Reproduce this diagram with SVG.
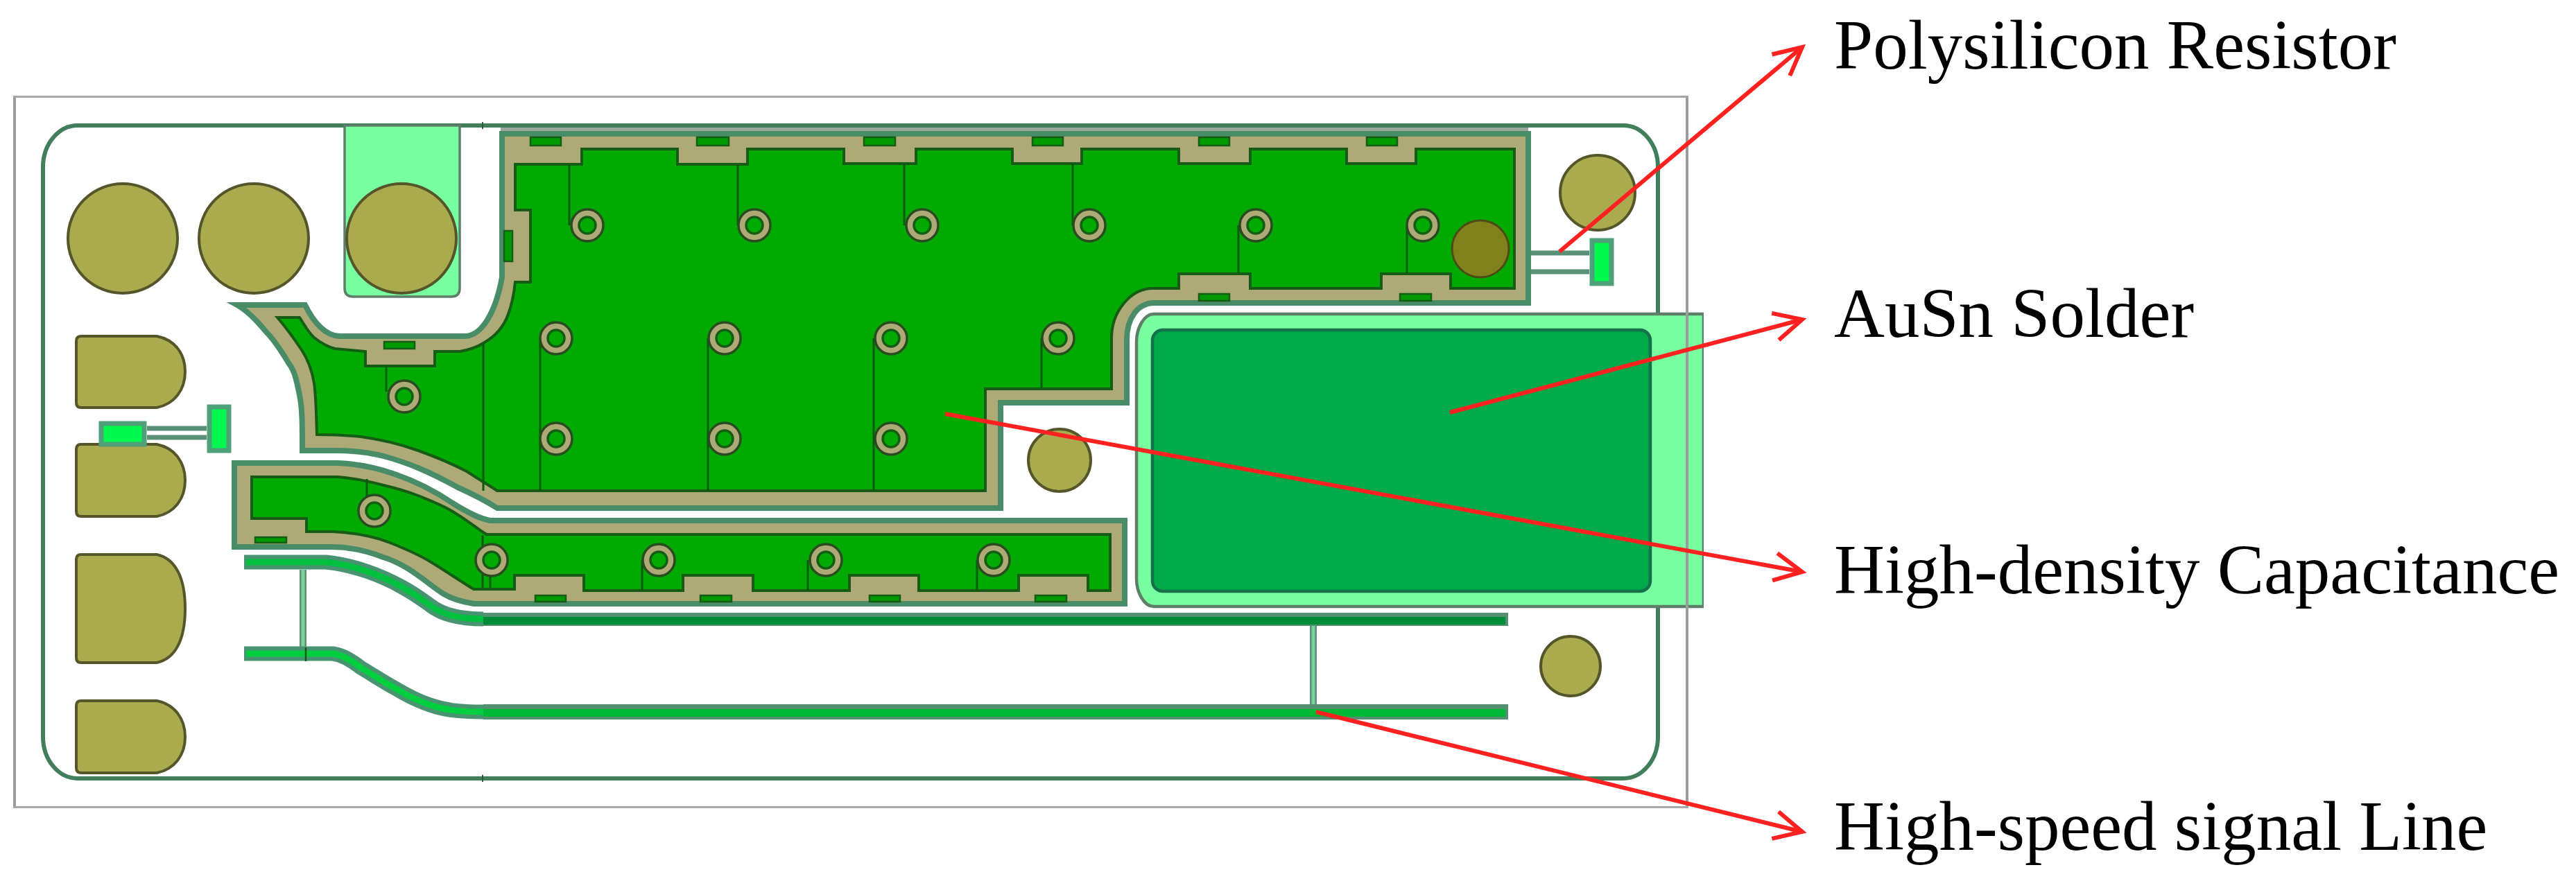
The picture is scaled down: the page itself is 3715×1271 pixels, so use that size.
<svg xmlns="http://www.w3.org/2000/svg" xmlns:xlink="http://www.w3.org/1999/xlink" width="3715" height="1271" viewBox="0 0 3715 1271">
<style>
.label{font-family:"Liberation Serif","Times New Roman",serif;font-size:101px;fill:#000}
.pad{fill:#aaaa50;stroke:#55552c;stroke-width:4}
.tan{fill:#aeaa78;stroke:#4a8c68;stroke-width:8;stroke-linejoin:miter;stroke-miterlimit:8}
.cu{fill:#00aa00;stroke:#145c14;stroke-width:4}
.sq{fill:#009a00;stroke:#145c14;stroke-width:2.5}
.th{stroke:#0b5a10;stroke-width:3;fill:none}
.arrow{stroke:#ff2020;stroke-width:6;fill:none;marker-end:url(#head)}
.res{fill:#00f850;stroke:#4fa078;stroke-width:7}
.lk{stroke:#5a9076;stroke-width:7;fill:none}
.via1{fill:#aeaa78;stroke:#2c4c20;stroke-width:3.5}
.via2{fill:#00aa00;stroke:#145c14;stroke-width:3.5}
</style>
<defs>
<filter id="soft" x="0" y="0" width="100%" height="100%"><feGaussianBlur stdDeviation="0.7"/></filter>
<marker id="head" markerUnits="userSpaceOnUse" markerWidth="60" markerHeight="70" refX="50" refY="30" orient="auto" viewBox="0 0 60 70">
<path d="M10,10 L50,30 L10,50" fill="none" stroke="#ff2020" stroke-width="6"/>
</marker>
<g id="via"><circle r="23" class="via1"/><circle r="12" class="via2"/></g>
</defs>
<rect width="3715" height="1271" fill="#fff"/>

<g filter="url(#soft)">
<g id="die-outline">
<rect x="62" y="181" width="2329" height="942" rx="50" ry="60" fill="#fff" stroke="#3f7f5a" stroke-width="6"/>
<path d="M696,176V186M696,1118V1128" stroke="#2c5c40" stroke-width="2"/>
</g>

<g id="bond-tail"><path d="M497,181H663V416Q663,428 651,428H509Q497,428 497,416Z" fill="#78ffa0" stroke="#5e7e6a" stroke-width="3.5"/></g>

<g id="round-pads">
<circle cx="177" cy="344" r="79" class="pad"/>
<circle cx="366" cy="344" r="79" class="pad"/>
<circle cx="579" cy="344" r="79" class="pad"/>
<circle cx="2304" cy="278" r="54" class="pad"/>
<circle cx="1528" cy="664" r="45" class="pad"/>
<circle cx="2265" cy="961" r="43" class="pad"/>
</g>

<g id="d-pads">
<path class="pad" d="M117,485H226C252,490 267,510 267,536C267,562 252,583 226,588H117Q110,588 110,581V492Q110,485 117,485Z"/>
<path class="pad" d="M117,641H226C252,646 267,667 267,693C267,719 252,740 226,745H117Q110,745 110,738V648Q110,641 117,641Z"/>
<path class="pad" d="M117,800H226C254,806 267,835 267,878C267,921 254,950 226,956H117Q110,956 110,949V807Q110,800 117,800Z"/>
<path class="pad" d="M117,1011H226C252,1016 267,1037 267,1063C267,1089 252,1110 226,1115H117Q110,1115 110,1108V1018Q110,1011 117,1011Z"/>
</g>

<g id="left-resistor">
<path class="lk" d="M212,618H298M212,631H298"/>
<rect x="146" y="611" width="62" height="30" class="res"/>
<rect x="302" y="587" width="28" height="63" class="res"/>
</g>

<g id="right-resistor">
<path class="lk" d="M2205,365H2292M2205,392H2292"/>
<rect x="2296" y="347" width="28" height="62" class="res"/>
</g>

<g id="main-capacitor">
<rect x="722" y="184" width="1482" height="8" fill="#9aa89c"/>
<path class="tan" d="M724,193H2204V437H1665C1640,437 1625,460 1625,490V581H1443V733H717C700,722 680,712 660,703C620,681 590,668 553,658C530,652 505,650 483,650H436C436,610 436,590 432,570C428,550 425,535 417,525C405,505 395,490 384,479C375,468 360,450 342,440H440C452,465 470,485 490,485H670C695,485 715,450 724,400Z"/>
<path class="cu" d="M743,237H839V215H977V237H1078V215H1217V236H1321V215H1460V236H1560V215H1700V236H1803V215H1942V236H2042V215H2184V416H2092V395H1992V416H1803V395H1700V416H1663C1630,416 1603,450 1603,488V561H1421V708H717C700,697 685,688 673,680C650,668 625,658 603,650C575,640 550,634 520,630C500,628 480,627 457,627C456,600 456,575 453,553C450,535 445,520 435,505C425,490 412,472 400,458H432C440,470 445,480 453,487C463,495 472,500 483,503L527,507V528H627V507H663C675,505 686,502 697,495C715,485 727,470 733,453C738,440 741,425 743,407H765V303H743Z"/>
<g>
<rect x="765" y="198" width="44" height="12" class="sq"/>
<rect x="1005" y="198" width="46" height="12" class="sq"/>
<rect x="1246" y="198" width="45" height="12" class="sq"/>
<rect x="1489" y="198" width="44" height="12" class="sq"/>
<rect x="1729" y="198" width="44" height="12" class="sq"/>
<rect x="1971" y="198" width="44" height="12" class="sq"/>
<rect x="1729" y="424" width="44" height="10" class="sq"/>
<rect x="2019" y="424" width="45" height="10" class="sq"/>
<rect x="727" y="333" width="12" height="44" class="sq"/>
<rect x="554" y="493" width="44" height="10" class="sq"/>
</g>
<path class="th" d="M821,237V325M1064,237V325M1304,237V325M1547,237V325M1786,325V395M2029,325V395M779,488V708M1021,488V708M1260,488V708M1502,488V561M697,495V708M557,528V565"/>
<use xlink:href="#via" href="#via" x="847" y="325"/>
<use xlink:href="#via" href="#via" x="1088" y="325"/>
<use xlink:href="#via" href="#via" x="1330" y="325"/>
<use xlink:href="#via" href="#via" x="1571" y="325"/>
<use xlink:href="#via" href="#via" x="1811" y="325"/>
<use xlink:href="#via" href="#via" x="2052" y="325"/>
<use xlink:href="#via" href="#via" x="802" y="488"/>
<use xlink:href="#via" href="#via" x="1045" y="488"/>
<use xlink:href="#via" href="#via" x="1285" y="488"/>
<use xlink:href="#via" href="#via" x="1526" y="488"/>
<use xlink:href="#via" href="#via" x="802" y="633"/>
<use xlink:href="#via" href="#via" x="1045" y="633"/>
<use xlink:href="#via" href="#via" x="1285" y="633"/>
<use xlink:href="#via" href="#via" x="583" y="572"/>
<circle cx="2135" cy="359" r="41" fill="#80801e" stroke="#4c4c14" stroke-width="3"/>
</g>

<g id="lower-capacitor">
<path class="tan" d="M338,668H487C540,670 600,690 653,726C672,738 690,748 707,751H1622V871H683C665,868 650,863 640,857C620,845 590,815 553,804C530,795 505,789 478,789H338Z"/>
<path class="cu" d="M363,688H487C510,690 530,694 553,700C570,704 585,708 603,715C620,722 637,728 653,738C670,748 685,760 697,768L702,771H1601V852H1569V830H1469V852H1325V830H1225V852H1086V830H985V852H842V830H742V850H683C660,836 640,822 620,810C600,798 580,790 560,782C535,773 505,768 480,767H442V748H363Z"/>
<rect x="368" y="775" width="45" height="8" class="sq"/>
<rect x="772" y="859" width="44" height="9" class="sq"/>
<rect x="1010" y="859" width="45" height="9" class="sq"/>
<rect x="1254" y="859" width="44" height="9" class="sq"/>
<rect x="1493" y="859" width="45" height="9" class="sq"/>
<path class="th" d="M529,691V718M696,772V850M707,808V850M926,808V852M1165,808V852M1409,808V852"/>
<use xlink:href="#via" href="#via" x="540" y="737"/>
<use xlink:href="#via" href="#via" x="709" y="808"/>
<use xlink:href="#via" href="#via" x="950" y="808"/>
<use xlink:href="#via" href="#via" x="1191" y="808"/>
<use xlink:href="#via" href="#via" x="1433" y="808"/>
</g>

<g id="signal-lines">
<path d="M437,822V934M1894,903V1022" stroke="#5a9076" stroke-width="10" fill="none"/>
<path d="M437,822V934M1894,903V1022" stroke="#7ad09c" stroke-width="5" fill="none"/>
<path d="M352,811H470C510,815 550,830 580,847C600,858 610,866 620,873C635,885 660,893 697,893" fill="none" stroke="#4a9470" stroke-width="21"/>
<path d="M355,811H470C510,815 550,830 580,847C600,858 610,866 620,873C635,885 660,893 697,893" fill="none" stroke="#00c040" stroke-width="9"/>
<path d="M352,943H480C495,945 510,955 520,963C540,975 555,985 570,993C590,1005 605,1012 620,1017C640,1024 660,1027 697,1027" fill="none" stroke="#4a9470" stroke-width="21"/>
<path d="M355,943H480C495,945 510,955 520,963C540,975 555,985 570,993C590,1005 605,1012 620,1017C640,1024 660,1027 697,1027" fill="none" stroke="#00d040" stroke-width="9"/>
<path d="M441,934V954" stroke="#0b5a10" stroke-width="2.5"/>
<rect x="697" y="884" width="1478" height="19" fill="#558f72"/>
<rect x="697" y="890" width="1474" height="11" fill="#008c38"/>
<rect x="697" y="1016" width="1478" height="22" fill="#558f72"/>
<rect x="697" y="1023" width="1474" height="11" fill="#00b834"/>
</g>

<g id="solder">
<path d="M1664,453H2457V875H1664C1650,875 1639,855 1639,835V493C1639,473 1650,453 1664,453Z" fill="#78ffa0" stroke="#5e7e6a" stroke-width="4.5"/>
<rect x="1662" y="476" width="718" height="377" rx="15" ry="15" fill="#00aa4c" stroke="#14704a" stroke-width="4.5"/>
</g>

<g id="chip-frame">
<rect x="21" y="138" width="2412" height="1028" fill="none" stroke="#9c9c9c" stroke-width="4"/>
<path d="M19,138H2435M19,1166H2435" stroke="#a6a6a6" stroke-width="6"/>
</g>
</g>

<g id="connectors">
<line class="arrow" x1="2249" y1="363" x2="2599" y2="68"/>
<line class="arrow" x1="2091" y1="595" x2="2599" y2="461"/>
<line class="arrow" x1="1363" y1="597" x2="2599" y2="825"/>
<line class="arrow" x1="1898" y1="1027" x2="2599" y2="1200"/>
</g>

<g id="labels">
<text class="label" x="2645" y="99">Polysilicon Resistor</text>
<text class="label" x="2645" y="486">AuSn Solder</text>
<text class="label" x="2645" y="856">High-density Capacitance</text>
<text class="label" x="2645" y="1226">High-speed signal Line</text>
</g>
</svg>
